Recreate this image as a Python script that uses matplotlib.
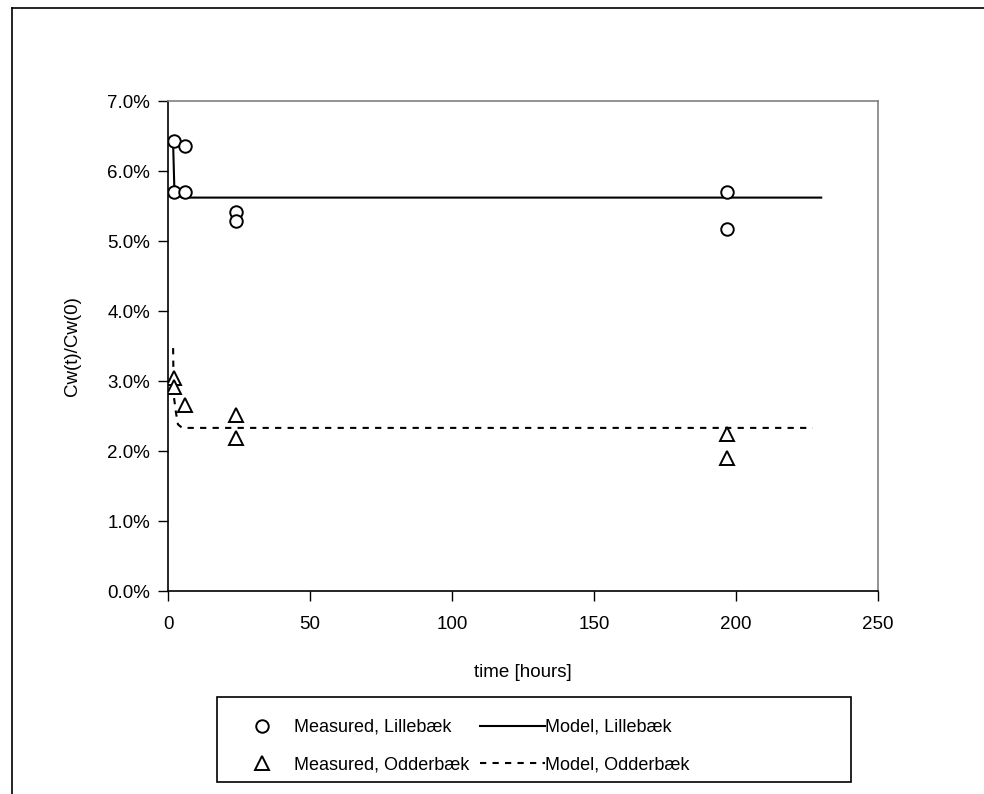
import matplotlib
matplotlib.use("Agg")
import matplotlib.pyplot as plt
from matplotlib.ticker import PercentFormatter, MultipleLocator
from matplotlib.patches import Rectangle
from matplotlib.lines import Line2D

plt.rcParams['font.family'] = ['Liberation Sans', 'DejaVu Sans']

# Measured data (time in hours, Cw(t)/Cw(0) in %)
t_lille = [2, 2, 6, 6, 24, 24, 197, 197]
c_lille = [6.43, 5.70, 6.36, 5.70, 5.41, 5.28, 5.70, 5.17]
t_odder = [2, 2, 6, 24, 24, 197, 197]
c_odder = [3.05, 2.92, 2.66, 2.52, 2.19, 2.25, 1.90]

# Model curves
tm_lille = [1.8, 2.2, 3.0, 5.0, 230]
cm_lille = [6.40, 5.80, 5.66, 5.62, 5.62]
tm_odder = [1.8, 2.0, 2.8, 3.5, 5.0, 227]
cm_odder = [3.47, 2.80, 2.55, 2.38, 2.33, 2.33]

labels = ["Measured, Lillebæk", "Measured, Odderbæk",
          "Model, Lillebæk", "Model, Odderbæk"]
x_label = "time [hours]"
y_label = "Cw(t)/Cw(0)"

W, H = 984, 794
fig = plt.figure(figsize=(W / 100, H / 100), dpi=100)
fig.patch.set_facecolor("white")

# outer chart border (cropped at right/bottom)
fig.add_artist(Line2D([12 / W, 12 / W], [-0.1, 1 - 8 / H], transform=fig.transFigure,
                      color="black", lw=1.2))
fig.add_artist(Line2D([12 / W, 1.1], [1 - 8 / H, 1 - 8 / H], transform=fig.transFigure,
                      color="black", lw=1.2))

ax = fig.add_axes([168 / W, 1 - 591 / H, (878 - 168) / W, (591 - 101) / H])

fs = 13.5
ax.plot(tm_lille, cm_lille, color="black", lw=1.5, label=labels[2], zorder=2)
ax.plot(tm_odder, cm_odder, color="black", lw=1.5, linestyle=(0, (3, 3)),
        label=labels[3], zorder=2)
ax.plot(t_lille, c_lille, linestyle="none", marker="o", markersize=9,
        markerfacecolor="white", markeredgecolor="black", markeredgewidth=1.4,
        label=labels[0], zorder=3)
ax.plot(t_odder, c_odder, linestyle="none", marker="^", markersize=10,
        markerfacecolor="white", markeredgecolor="black", markeredgewidth=1.4,
        label=labels[1], zorder=3)

ax.set_xlim(0, 250)
ax.set_ylim(0, 7)
ax.xaxis.set_major_locator(MultipleLocator(50))
ax.yaxis.set_major_locator(MultipleLocator(1))
ax.yaxis.set_major_formatter(PercentFormatter(xmax=100, decimals=1))
ax.tick_params(direction="out", length=7, width=1, labelsize=fs, colors="black")
ax.tick_params(axis="x", pad=11)
ax.tick_params(axis="y", pad=6)
for s in ["top", "right"]:
    ax.spines[s].set_color("#808080")
    ax.spines[s].set_linewidth(1.2)
for s in ["left", "bottom"]:
    ax.spines[s].set_color("black")
    ax.spines[s].set_linewidth(1.2)

ax.set_xlabel(x_label, fontsize=fs, labelpad=22)
ax.set_ylabel(y_label, fontsize=fs, labelpad=19)

# legend frame
fig.add_artist(Rectangle((217 / W, 1 - 782 / H), (851 - 217) / W, (782 - 697) / H,
                         transform=fig.transFigure, fill=False, edgecolor="black", lw=1.2))

lfs = 13
h, l = ax.get_legend_handles_labels()
order = [2, 3, 0, 1]
leg = fig.legend([h[i] for i in order], [l[i] for i in order], ncol=2,
                 loc="upper left", bbox_to_anchor=(229 / W, 1 - 719 / H),
                 frameon=False, fontsize=lfs, handlelength=3.6, handletextpad=0.0,
                 columnspacing=0.6, labelspacing=1.15, borderpad=0, borderaxespad=0)

fig.savefig("out.png", dpi=100, facecolor="white")
